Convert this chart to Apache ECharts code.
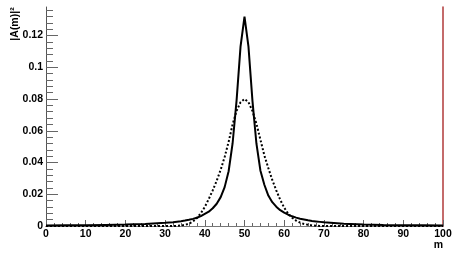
<!DOCTYPE html>
<html><head><meta charset="utf-8">
<script src="https://cdn.jsdelivr.net/npm/echarts@6/dist/echarts.min.js"></script>
<style>html,body{margin:0;padding:0;background:#fff}#c{width:474px;height:253px}</style>
</head><body><div id="c"></div>
<script>
// Solid curve (narrow peak)
const mSolid = [0,5,10,15,20,25,30,31,32,33,34,35,36,37,38,39,40,41,42,43,44,45,46,47,48,49,50,
  51,52,53,54,55,56,57,58,59,60,61,62,63,64,65,66,67,68,69,70,75,80,85,90,95,100];
const aSolid = [0.0003,0.0004,0.0005,0.0007,0.0009,0.0013,0.0020,0.0022,0.0024,0.0027,0.0030,0.0034,0.0039,0.0045,0.0052,0.0062,0.0076,0.0090,0.0112,0.0140,0.0182,0.0245,0.0345,0.052,0.079,0.113,0.132,
  0.113,0.079,0.052,0.035,0.026,0.0192,0.0150,0.0122,0.0100,0.0084,0.0071,0.0061,0.0053,0.0046,0.0041,0.0036,0.0032,0.0029,0.0026,0.0023,0.0014,0.0010,0.0007,0.0005,0.0004,0.0003];
// Dotted curve (wider, lower peak)
const mDotted = [0,10,20,30,32,33,34,35,36,37,38,39,40,41,42,43,44,45,46,47,48,49,50,
  51,52,53,54,55,56,57,58,59,60,61,62,63,64,65,66,67,68,69,70,80,90,100];
const aDotted = [0,0,0,0,0,0.0001,0.0003,0.0007,0.0015,0.0028,0.0050,0.0080,0.0120,0.0170,0.0225,0.0285,0.0355,0.0435,0.0530,0.0640,0.0725,0.0780,0.0800,
  0.0780,0.0725,0.0645,0.0545,0.0445,0.0365,0.0290,0.0225,0.0165,0.0115,0.0078,0.0052,0.0034,0.0021,0.0013,0.0008,0.0004,0.0002,0,0,0,0,0];
const yMajor = [0,0.02,0.04,0.06,0.08,0.1,0.12];
const yMinor = [0.004,0.008,0.012,0.016,0.024,0.028,0.032,0.036,0.044,0.048,0.052,0.056,0.064,0.068,0.072,0.076,0.084,0.088,0.092,0.096,0.104,0.108,0.112,0.116,0.124,0.128,0.132,0.136];
const yTitle = '|A(m)|\u00B2';
const xTitle = 'm';

const font = "'Liberation Sans', Arial, sans-serif";
const chart = echarts.init(document.getElementById('c'));
const Y_MAX = 0.138;
chart.setOption({
  animation: false,
  backgroundColor: '#fff',
  grid: {left: 46, top: 7, right: 31, bottom: 27},
  xAxis: [{
    type: 'value', min: 0, max: 100, interval: 10, position: 'bottom',
    axisLine: {lineStyle: {color: '#b03a3a', width: 1}},
    axisTick: {inside: true, length: 6, lineStyle: {color: '#666'}},
    minorTick: {show: true, splitNumber: 5, length: 3, lineStyle: {color: '#666'}},
    axisLabel: {margin: 3, fontFamily: font, fontWeight: 'bold', fontSize: 10.5, color: '#000'},
    splitLine: {show: false}
  }, {
    type: 'value', min: 0, max: 100, position: 'top',
    axisLine: {show: true, lineStyle: {color: '#777'}},
    axisTick: {show: false}, axisLabel: {show: false}, splitLine: {show: false}
  }],
  yAxis: [{
    type: 'value', min: 0, max: Y_MAX, position: 'left',
    axisLine: {show: true, lineStyle: {color: '#555'}},
    axisTick: {inside: true, length: 12, customValues: yMajor, lineStyle: {color: '#666'}},
    axisLabel: {margin: 3, customValues: yMajor, fontFamily: font, fontWeight: 'bold', fontSize: 10.5, color: '#000'},
    splitLine: {show: false}
  }, {
    type: 'value', min: 0, max: Y_MAX, position: 'left', offset: 0,
    axisLine: {show: false},
    axisTick: {inside: true, length: 7, customValues: yMinor, lineStyle: {color: '#666'}},
    axisLabel: {show: false}, splitLine: {show: false}
  }, {
    type: 'value', min: 0, max: Y_MAX, position: 'right', offset: 0,
    axisLine: {show: true, lineStyle: {color: '#b03a3a', width: 1.5}},
    axisTick: {show: false}, axisLabel: {show: false}, splitLine: {show: false}
  }],
  graphic: [
    {type: 'text', x: 15, y: 24, rotation: Math.PI / 2,
     style: {text: yTitle, font: 'bold 10.5px ' + font, fill: '#000', textAlign: 'center', textVerticalAlign: 'middle'}},
    {type: 'text', x: 443, y: 245,
     style: {text: xTitle, font: 'bold 10.5px ' + font, fill: '#000', textAlign: 'right', textVerticalAlign: 'middle'}}
  ],
  series: [{
    type: 'line', xAxisIndex: 0, yAxisIndex: 0, showSymbol: false, symbol: 'none',
    data: mSolid.map((m, i) => [m, aSolid[i]]),
    lineStyle: {color: '#000', width: 2}
  }, {
    type: 'line', xAxisIndex: 0, yAxisIndex: 0, showSymbol: false, symbol: 'none',
    data: mDotted.map((m, i) => [m, aDotted[i]]),
    lineStyle: {color: '#000', width: 2, type: [2, 2]}
  }]
});
</script></body></html>
